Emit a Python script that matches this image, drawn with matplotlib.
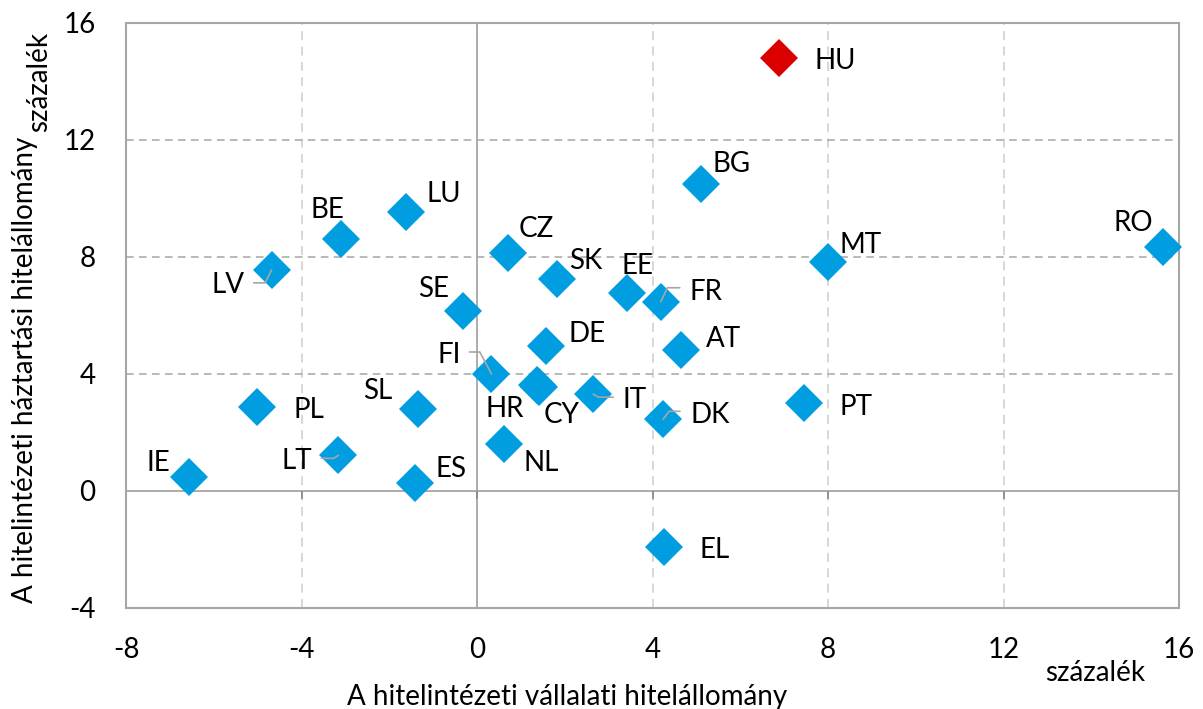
import matplotlib
matplotlib.use('Agg')
import matplotlib.pyplot as plt

plt.rcParams['font.family'] = ['Lato', 'DejaVu Sans']
plt.rcParams['axes.unicode_minus'] = False

# Data (percent, year-on-year)
countries = ['HU', 'BG', 'LU', 'BE', 'CZ', 'LV', 'RO', 'MT', 'SK', 'EE', 'FR', 'SE', 'DE', 'AT',
             'FI', 'HR', 'CY', 'IT', 'DK', 'NL', 'ES', 'EL', 'SL', 'PT', 'PL', 'LT', 'IE']
corporate = [6.88, 5.11, -1.62, -3.11, 0.71, -4.68, 15.63, 8.00, 1.82, 3.41, 4.19, -0.31, 1.57, 4.64,
             0.33, 1.36, 1.42, 2.65, 4.24, 0.62, -1.41, 4.26, -1.34, 7.45, -5.01, -3.16, -6.56]
household = [14.80, 10.48, 9.54, 8.59, 8.14, 7.55, 8.32, 7.83, 7.23, 6.75, 6.46, 6.15, 4.96, 4.81,
             3.99, 3.62, 3.54, 3.30, 2.44, 1.60, 0.27, -1.91, 2.78, 2.99, 2.87, 1.21, 0.48]
highlight = 'HU'

x_ticks = [-8, -4, 0, 4, 8, 12, 16]
x_tick_labels = ['-8', '-4', '0', '4', '8', '12', '16']
y_ticks = [-4, 0, 4, 8, 12, 16]
y_tick_labels = ['-4', '0', '4', '8', '12', '16']

x_title = 'A hitelintézeti vállalati hitelállomány'
y_title = 'A hitelintézeti háztartási hitelállomány'
unit = 'százalék'

# label placement: (alignment, dx px, dy px to baseline, down positive)
label_pos = {
    'HU': ('left', 36, 11), 'BG': ('left', 11, -12), 'LU': ('left', 21, -10),
    'BE': ('center', -13, -21), 'CZ': ('left', 10, -16), 'LV': ('right', -27, 23),
    'RO': ('center', -30, -16), 'MT': ('left', 11, -9), 'SK': ('left', 12, -10),
    'EE': ('center', 11, -19), 'FR': ('left', 29, -2), 'SE': ('right', -14, -14),
    'DE': ('left', 23, -4), 'AT': ('left', 25, -3), 'FI': ('right', -31, -11),
    'HR': ('center', -32, 32), 'CY': ('center', 22, 36), 'IT': ('left', 29, 14),
    'DK': ('left', 27, 4), 'NL': ('left', 19, 27), 'ES': ('left', 20, -6),
    'EL': ('left', 36, 11), 'SL': ('right', -26, -10), 'PT': ('left', 36, 12),
    'PL': ('left', 36, 11), 'LT': ('right', -26, 14), 'IE': ('right', -19, -6),
}
# leader lines: start offset px (dx, dy down positive) and angle of the segment at the point
leaders = {
    'LV': (-18, 13, 63), 'FR': (19, -14, 65), 'FI': (-22, -22, 118),
    'IT': (20, 3, -31), 'DK': (17, -8, 53), 'LT': (-17, 3, 33),
}

blue = '#009EE0'
red = '#DA0000'
grid_dark = '#A6A6A6'
grid_light = '#D4D4D4'
px = 0.72  # points per pixel at dpi 100
fs = 20

fig = plt.figure(figsize=(12.03, 7.09), dpi=100)
ax = fig.add_axes([0.10474, 0.14288, 0.87531, 0.82511])
ax.set_xlim(-8, 16)
ax.set_ylim(-4, 16)

# grid
for xv in x_ticks:
    if xv not in (-8, 0, 16):
        ax.axvline(xv, color=grid_light, lw=1.3, dashes=(5, 3.5), zorder=1)
for yv in y_ticks:
    if yv not in (-4, 0, 16):
        ax.axhline(yv, color=grid_dark, lw=1.1, dashes=(5, 3.5), zorder=1)
ax.axhline(0, color=grid_dark, lw=1.3, zorder=2)
ax.axvline(0, color=grid_dark, lw=1.3, zorder=2)
ax.plot(x_ticks[1:-1], [0] * (len(x_ticks) - 2), ls='none', marker=3, ms=6,
        mew=1.3, color='#8C8C8C', zorder=2)

for s in ax.spines.values():
    s.set_color(grid_dark)
    s.set_linewidth(1.5)

ax.set_xticks(x_ticks)
ax.set_xticklabels(x_tick_labels)
ax.set_yticks(y_ticks)
ax.set_yticklabels(y_tick_labels)
ax.tick_params(axis='both', length=0, labelsize=fs, colors='black')
ax.tick_params(axis='x', pad=21)
ax.tick_params(axis='y', pad=22)

# points
for c, xv, yv in zip(countries, corporate, household):
    col = red if c == highlight else blue
    ax.plot(xv, yv, ls='none', marker='D', ms=19.5, mew=0, color=col, zorder=3, clip_on=False)

# leader lines
for c, (sx, sy, ang) in leaders.items():
    i = countries.index(c)
    ax.annotate('', xy=(corporate[i], household[i]), xytext=(sx * px, -sy * px),
                textcoords='offset points',
                arrowprops=dict(arrowstyle='-', color='#A6A6A6', lw=1.2, shrinkA=0, shrinkB=0,
                                connectionstyle='angle,angleA=0,angleB=%d,rad=0' % ang),
                zorder=4)

# labels
for c, xv, yv in zip(countries, corporate, household):
    ha, dx, dy = label_pos[c]
    ax.annotate(c, xy=(xv, yv), xytext=(dx * px, -dy * px), textcoords='offset points',
                ha=ha, va='baseline', fontsize=fs, color='black', zorder=5)

# axis titles
fig.text(567 / 1203, 1 - 705 / 709, x_title, ha='center', va='baseline', fontsize=fs)
fig.text(1095 / 1203, 1 - 681 / 709, unit, ha='center', va='baseline', fontsize=fs)
fig.text(33 / 1203, 1 - 370 / 709, y_title, rotation=90, rotation_mode='anchor',
         ha='center', va='baseline', fontsize=fs)
fig.text(47 / 1203, 1 - 82 / 709, unit, rotation=90, rotation_mode='anchor',
         ha='center', va='baseline', fontsize=fs)

plt.savefig('out.png', dpi=100)
